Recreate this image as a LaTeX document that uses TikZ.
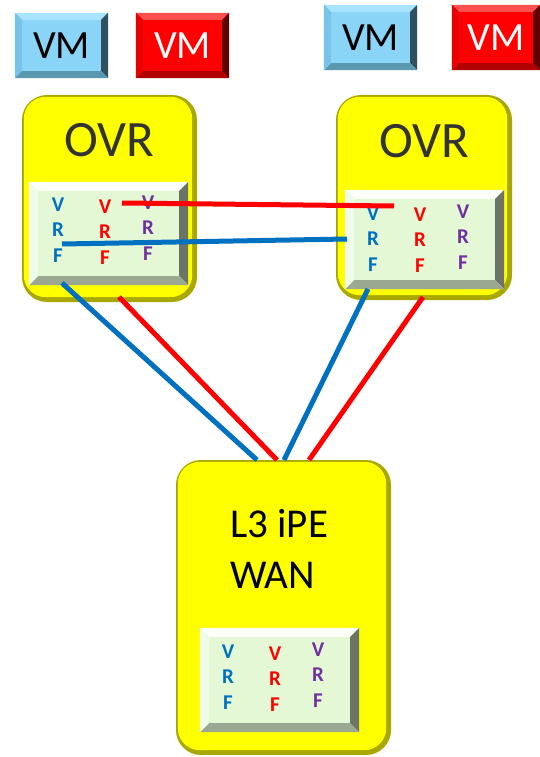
\documentclass[tikz,border=0pt]{standalone}
\usepackage{fontspec}
\setmainfont{Carlito}
\usetikzlibrary{calc}
\definecolor{vmblue}{HTML}{8AD4F8}
\definecolor{vmbluetop}{HTML}{A8E4FF}
\definecolor{vmblueleft}{HTML}{78C4E8}
\definecolor{vmblueright}{HTML}{2E5060}
\definecolor{vmbluebot}{HTML}{5A98B0}
\definecolor{vmred}{HTML}{FF0000}
\definecolor{vmredtop}{HTML}{FF5050}
\definecolor{vmredleft}{HTML}{E80000}
\definecolor{vmredright}{HTML}{600000}
\definecolor{vmredbot}{HTML}{B00000}
\definecolor{vrfgreen}{HTML}{E4F8D6}
\definecolor{vrftop}{HTML}{FCFFF8}
\definecolor{vrfleft}{HTML}{F0FCEA}
\definecolor{vrfright}{HTML}{6C7468}
\definecolor{vrfbot}{HTML}{9AA892}
\definecolor{ylw}{HTML}{FFFF00}
\definecolor{ylwdark}{HTML}{A8A800}
\definecolor{ovrtext}{HTML}{333333}
\definecolor{cblue}{HTML}{0070C0}
\definecolor{cred}{HTML}{FF0000}
\definecolor{cpurple}{HTML}{7030A0}
\newcommand{\mybevel}[6]{%
  \fill[#3] (#1.north west) -- (#1.north east) -- ($(#1.north east)+(-#2,#2)$) -- ($(#1.north west)+(#2,#2)$) -- cycle;
  \fill[#4] (#1.north east) -- (#1.south east) -- ($(#1.south east)+(-#2,-#2)$) -- ($(#1.north east)+(-#2,#2)$) -- cycle;
  \fill[#5] (#1.south east) -- (#1.south west) -- ($(#1.south west)+(#2,-#2)$) -- ($(#1.south east)+(-#2,-#2)$) -- cycle;
  \fill[#6] (#1.south west) -- (#1.north west) -- ($(#1.north west)+(#2,#2)$) -- ($(#1.south west)+(#2,-#2)$) -- cycle;
}
\newcommand{\myyellow}[1]{%
  \fill[ylw, rounded corners=22pt] ($(#1.north west)+(2,2)$) rectangle ($(#1.south east)+(-5,-5)$);
}
\tikzset{
  x=1pt, y=-1pt,
  vmbox/.style={rectangle, inner sep=0pt, minimum width=93pt, minimum height=65pt, font=\fontsize{40}{44}\selectfont},
  vmb/.style={vmbox, fill=vmblue, text=black},
  vmr/.style={vmbox, fill=vmred, text=white},
  ovrbox/.style={rectangle, rounded corners=25pt, fill=ylwdark, inner sep=0pt},
  vrfbox/.style={rectangle, fill=vrfgreen, inner sep=0pt, minimum width=159pt},
  vrfcol/.style={align=center, inner sep=0pt, font=\fontsize{21}{25.5}\selectfont\bfseries},
  ovrlabel/.style={text=ovrtext, font=\fontsize{51}{55}\selectfont},
  link/.style={line width=5pt},
}
\begin{document}
\begin{tikzpicture}
\useasboundingbox[fill=white] (0,0) rectangle (539,757);

% VM boxes
\node[vmb] (vm1) at (61.5,45.5) {};
\mybevel{vm1}{7}{vmbluetop}{vmblueright}{vmbluebot}{vmblueleft}
\node[vmbox, text=black] at (vm1) {VM};
\node[vmr] (vm2) at (182.5,45.5) {};
\mybevel{vm2}{7}{vmredtop}{vmredright}{vmredbot}{vmredleft}
\node[vmbox, text=white] at (vm2) {VM};
\node[vmb] (vm3) at (370.5,37.5) {};
\mybevel{vm3}{7}{vmbluetop}{vmblueright}{vmbluebot}{vmblueleft}
\node[vmbox, text=black] at (vm3) {VM};
\node[vmr, minimum width=88pt] (vm4) at (496,37.5) {};
\mybevel{vm4}{7}{vmredtop}{vmredright}{vmredbot}{vmredleft}
\node[vmbox, text=white] at (vm4) {VM};

% L3 iPE box (drawn first so links meet its top)
\node[ovrbox, minimum width=215pt, minimum height=295pt] (pe) at (283.5,607.5) {};
\myyellow{pe}
\node[anchor=base west, inner sep=0pt, font=\fontsize{41}{51}\selectfont] (pe1) at (230,537) {L3 iPE};
\node[anchor=base west, inner sep=0pt, font=\fontsize{41}{51}\selectfont] (pe2) at (230,588) {WAN};
\node[vrfbox, minimum height=104pt] (pevrf) at (279.5,680) {};
\mybevel{pevrf}{9}{vrftop}{vrfright}{vrfbot}{vrfleft}
\node[vrfcol, text=cblue] (peb) at (228,677) {V\\R\\F};
\node[vrfcol, text=cred] (per) at (275,679) {V\\R\\F};
\node[vrfcol, text=cpurple] (pep) at (318,675) {V\\R\\F};

% Left OVR
\node[ovrbox, minimum width=175pt, minimum height=207pt] (ovr1) at (109.5,198.5) {};
\myyellow{ovr1}
\node[ovrlabel] (ovr1t) at (109,140) {OVR};
\node[vrfbox, minimum height=103pt] (vrf1) at (108.5,233.5) {};
\mybevel{vrf1}{9}{vrftop}{vrfright}{vrfbot}{vrfleft}
\node[vrfcol, text=cblue] (l1b) at (58,230) {V\\R\\F};
\node[vrfcol, text=cred] (l1r) at (105,232) {V\\R\\F};
\node[vrfcol, text=cpurple] (l1p) at (148,228) {V\\R\\F};

% Right OVR
\node[ovrbox, minimum width=176pt, minimum height=205pt] (ovr2) at (424,197.5) {};
\myyellow{ovr2}
\node[ovrlabel] (ovr2t) at (424,141) {OVR};
\node[vrfbox, minimum height=99pt] (vrf2) at (424.5,239.5) {};
\mybevel{vrf2}{9}{vrftop}{vrfright}{vrfbot}{vrfleft}
\node[vrfcol, text=cblue] (r2b) at (373,239) {V\\R\\F};
\node[vrfcol, text=cred] (r2r) at (420,240) {V\\R\\F};
\node[vrfcol, text=cpurple] (r2p) at (463,237) {V\\R\\F};

% connector end points
\coordinate (rh1) at (122,203);
\coordinate (rh2) at (394,206);
\coordinate (bh1) at (62,244);
\coordinate (bh2) at (347,239);
\coordinate (lbs) at (62,283);
\coordinate (lbe) at (257,460);
\coordinate (lrs) at (119,297);
\coordinate (lre) at (277,460);
\coordinate (rbs) at (368,289);
\coordinate (rbe) at (284,460);
\coordinate (rrs) at (423,297);
\coordinate (rre) at (309,460);

\draw[link, cred] (rh1) -- (rh2);
\draw[link, cblue] (bh1) -- (bh2);
\draw[link, cblue] (lbs) -- (lbe);
\draw[link, cred] (lrs) -- (lre);
\draw[link, cblue] (rbs) -- (rbe);
\draw[link, cred] (rrs) -- (rre);
\end{tikzpicture}
\end{document}
